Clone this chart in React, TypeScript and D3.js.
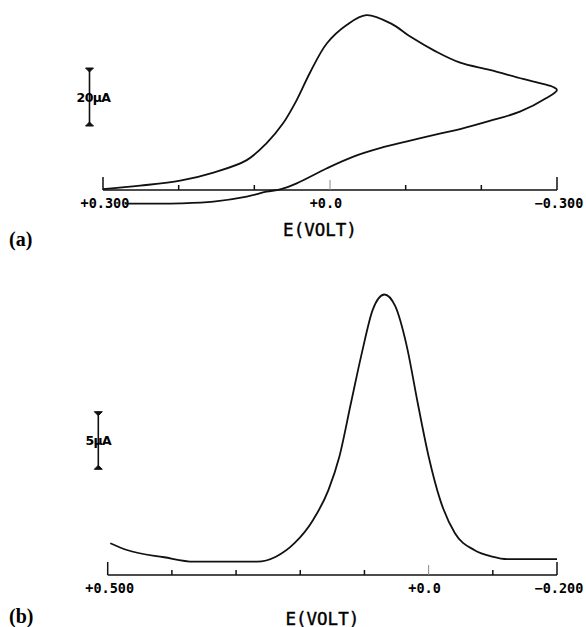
import React, { useRef, useEffect } from 'react';
import * as d3 from 'd3';

// (a) cyclic voltammogram: potential (V) and current (uA), forward then return
const cvPotential = [
  0.300, 0.251, 0.198, 0.154, 0.110, 0.084, 0.062, 0.044, 0.026, 0.004,
  -0.022, -0.048, -0.082, -0.106, -0.139, -0.172, -0.211, -0.255, -0.281, -0.295,
  -0.300,
  -0.286, -0.251, -0.211, -0.172, -0.145, -0.106, -0.066, -0.031, 0.004, 0.044,
  0.066, 0.084, 0.110, 0.154, 0.198, 0.238, 0.271,
];
const cvCurrent = [
  0.3, 1.5, 3.2, 6.0, 10.3, 16.1, 23.0, 31.0, 40.7, 50.6,
  56.9, 60.3, 57.2, 52.9, 47.9, 43.9, 41.4, 38.3, 36.6, 35.5,
  34.5,
  31.7, 27.0, 23.8, 21.0, 19.4, 17.0, 14.4, 11.5, 7.5, 2.3,
  0.2, -0.6, -2.3, -4.0, -4.6, -4.7, -4.7,
];

// (b) differential pulse peak
const dpPotential = [
  0.496, 0.470, 0.412, 0.366, 0.267, 0.238, 0.209, 0.180, 0.156, 0.139,
  0.121, 0.104, 0.087, 0.069, 0.052, 0.034, 0.017, 0.000, -0.018, -0.041,
  -0.071, -0.099, -0.123, -0.200,
];
const dpCurrent = [
  2.76, 2.17, 1.54, 1.16, 1.16, 1.59, 2.76, 4.78, 7.39, 10.29,
  14.93, 19.28, 23.04, 24.35, 23.33, 19.85, 14.93, 10.29, 6.52, 3.63,
  2.17, 1.59, 1.37, 1.37,
];

const ticksA = [0.3, 0.2, 0.1, 0.0, -0.1, -0.2, -0.3];
const labelsA = [
  { v: 0.3, t: '+0.300' },
  { v: 0.0, t: '+0.0' },
  { v: -0.3, t: '-0.300' },
];
const ticksB = [0.5, 0.4, 0.3, 0.2, 0.1, 0.0, -0.1, -0.2];
const labelsB = [
  { v: 0.5, t: '+0.500' },
  { v: 0.0, t: '+0.0' },
  { v: -0.2, t: '-0.200' },
];

const W = 586;
const H = 627;
const plotFont = "'DejaVu Sans Mono', monospace";

const drawPanel = (svg, opts) => {
  const { x, y, pot, cur, ticks, labels, curve, bar, barText, tag, tagY } = opts;
  const g = svg.append('g');
  const y0 = y(0);
  const [xl, xr] = x.range();

  // axis baseline
  g.append('line')
    .attr('x1', xl).attr('x2', xr)
    .attr('y1', y0).attr('y2', y0)
    .attr('stroke', '#111').attr('stroke-width', 1.5);

  g.selectAll('.tk')
    .data(ticks)
    .join('line')
    .attr('x1', d => x(d)).attr('x2', d => x(d))
    .attr('y1', y0)
    .attr('y2', (d, i) => (i === 0 || i === ticks.length - 1) ? y0 - 13 : d === 0 ? y0 - 10 : y0 - 5)
    .attr('stroke', d => d === 0 ? '#888' : '#111')
    .attr('stroke-width', d => d === 0 ? 1 : 1.5);

  g.selectAll('.lb')
    .data(labels)
    .join('text')
    .attr('x', d => x(d.v) + (d.v === 0 ? -4 : 2))
    .attr('y', y0 + 18)
    .attr('text-anchor', 'middle')
    .style('font-family', plotFont)
    .style('font-size', '13.5px')
    .style('font-weight', 'bold')
    .text(d => d.t.replace('-', '\u2212'));

  g.append('text')
    .attr('x', (xl + xr) / 2 - 10)
    .attr('y', y0 + opts.titleDy)
    .attr('text-anchor', 'middle')
    .style('font-family', plotFont)
    .style('font-size', '17.5px')
    .attr('stroke', '#000').attr('stroke-width', 0.4)
    .text('E(VOLT)');

  g.append('text')
    .attr('x', 9)
    .attr('y', tagY)
    .style('font-family', "'Liberation Serif', serif")
    .style('font-size', '20px')
    .style('font-weight', 'bold')
    .text(tag);

  // current scale bar
  const bx = bar.x;
  const btop = bar.top;
  const bbot = btop + (y(0) - y(bar.value));
  g.append('line')
    .attr('x1', bx).attr('x2', bx)
    .attr('y1', btop).attr('y2', bbot)
    .attr('stroke', '#111').attr('stroke-width', 1.6);
  g.append('path')
    .attr('d', `M${bx - 4},${btop} L${bx + 4},${btop} L${bx},${btop + 4} Z`)
    .attr('fill', '#111').attr('stroke', '#111').attr('stroke-width', 1);
  g.append('path')
    .attr('d', `M${bx - 4},${bbot} L${bx + 4},${bbot} L${bx},${bbot - 4} Z`)
    .attr('fill', '#111').attr('stroke', '#111').attr('stroke-width', 1);
  g.append('text')
    .attr('x', bx + bar.textDx)
    .attr('y', (btop + bbot) / 2 + 4.5)
    .attr('text-anchor', 'middle')
    .style('font-family', "'DejaVu Sans', sans-serif")
    .style('font-size', '12.5px')
    .style('font-weight', 'bold')
    .style('letter-spacing', '-0.6px')
    .text(barText);

  const line = d3.line()
    .x(d => x(d[0]))
    .y(d => y(d[1]))
    .curve(curve);

  g.append('path')
    .datum(pot.map((p, i) => [p, cur[i]]))
    .attr('d', line)
    .attr('fill', 'none')
    .attr('stroke', '#111')
    .attr('stroke-width', 1.8)
    .attr('stroke-linejoin', 'round');
};

const App = () => {
  const svgRef = useRef();

  useEffect(() => {
    d3.select(svgRef.current).selectAll('*').remove();

    const svg = d3.select(svgRef.current)
      .attr('width', W)
      .attr('height', H);

    svg.append('rect').attr('width', W).attr('height', H).attr('fill', '#fff');

    const xA = d3.scaleLinear().domain([0.3, -0.3]).range([103, 557]);
    const yA = d3.scaleLinear().domain([0, 20]).range([190, 132]);

    drawPanel(svg, {
      x: xA, y: yA,
      pot: cvPotential, cur: cvCurrent,
      ticks: ticksA, labels: labelsA,
      curve: d3.curveCatmullRom.alpha(0.5),
      bar: { x: 89.5, top: 68, value: 20, textDx: 4 },
      barText: '20\u03bcA',
      tag: '(a)', tagY: 246,
      titleDy: 46,
    });

    const xB = d3.scaleLinear().domain([0.5, -0.2]).range([107.7, 557]);
    const yB = d3.scaleLinear().domain([0, 5]).range([575, 517.4]);

    drawPanel(svg, {
      x: xB, y: yB,
      pot: dpPotential, cur: dpCurrent,
      ticks: ticksB, labels: labelsB,
      curve: d3.curveMonotoneX,
      bar: { x: 98.3, top: 411.7, value: 5, textDx: 0 },
      barText: '5\u03bcA',
      tag: '(b)', tagY: 623,
      titleDy: 49.5,
    });
  }, []);

  return (
    <svg ref={svgRef} style={{ position: 'absolute', left: 0, top: 0, display: 'block' }}></svg>
  );
};

export default App;
